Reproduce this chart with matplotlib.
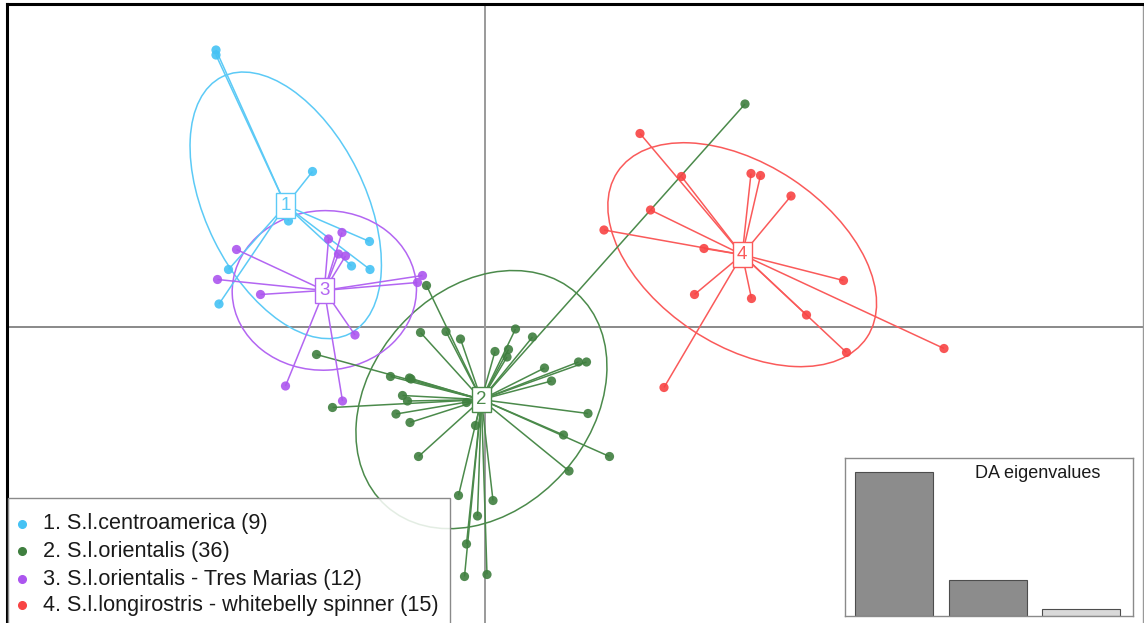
import numpy as np
import matplotlib
matplotlib.use("Agg")
import matplotlib.pyplot as plt
from matplotlib.patches import Ellipse, Rectangle

plt.rcParams['font.family'] = ['Liberation Sans', 'DejaVu Sans']

# Discriminant-analysis coordinates (LD1, LD2) per individual, grouped by cluster
group_names = ["1. S.l.centroamerica (9)",
               "2. S.l.orientalis (36)",
               "3. S.l.orientalis - Tres Marias (12)",
               "4. S.l.longirostris - whitebelly spinner (15)"]
group_ids = ["1", "2", "3", "4"]

g1_x = [-5.38, -5.38, -3.45, -3.93, -2.31, -2.67, -2.30, -5.13, -5.32]
g1_y = [5.54, 5.44, 3.11, 2.12, 1.71, 1.22, 1.15, 1.15, 0.46]

g2_x = [-1.17, -1.29, -0.78, -0.49, 0.61, 0.95, 0.20, 0.47, 0.44, 1.19, 1.87, 2.03,
        1.33, -3.37, -1.89, -1.51, -1.48, -1.65, -1.55, -0.37, -3.05, -1.78, -1.50,
        -0.19, 2.06, 1.57, 2.49, 1.68, -1.33, -0.53, 0.16, -0.15, -0.37, -0.41, 0.04, 5.20]
g2_y = [0.83, -0.11, -0.09, -0.24, -0.04, -0.20, -0.49, -0.45, -0.60, -0.82, -0.70, -0.70,
        -1.08, -0.55, -0.99, -1.02, -1.04, -1.37, -1.48, -1.51, -1.61, -1.74, -1.91,
        -1.97, -1.73, -2.16, -2.59, -2.88, -2.59, -3.37, -3.47, -3.78, -4.34, -4.99, -4.95, 4.46]

g3_x = [-2.86, -3.13, -2.93, -2.79, -4.97, -5.35, -4.49, -1.25, -1.35, -2.60, -3.99, -2.85]
g3_y = [1.89, 1.76, 1.46, 1.42, 1.55, 0.95, 0.65, 1.03, 0.89, -0.16, -1.18, -1.48]

g4_x = [3.10, 3.93, 3.31, 2.38, 4.38, 5.32, 5.51, 6.12, 7.17, 4.19, 5.33, 6.43, 7.23, 9.18, 3.58]
g4_y = [3.87, 3.01, 2.34, 1.94, 1.57, 3.07, 3.03, 2.62, 0.93, 0.65, 0.57, 0.24, -0.51, -0.43, -1.21]

# Eigenvalues of the discriminant functions (the third one is not retained)
eigenvalues = [144.0, 36.0, 7.0]
n_retained = 2

group_x = [g1_x, g2_x, g3_x, g4_x]
group_y = [g1_y, g2_y, g3_y, g4_y]
point_colors = ["#45c2f4", "#3f7f3f", "#ac55ef", "#f84444"]
line_colors = ["#5ccaf6", "#4b8a4b", "#b366f2", "#fa5a5a"]

W, H = 1144, 623
fig = plt.figure(figsize=(W / 100, H / 100), dpi=100)


def fx(px):
    return px / W


def fy(py):
    return 1 - py / H


# main scatter axes: origin of the discriminant space at the crossing lines
scale = 50.0
ox, oy = 485, 327
left_px, right_px, top_px, bottom_px = 7, 1143, 4, 623
ax = fig.add_axes([fx(left_px), fy(bottom_px), (right_px - left_px) / W, (bottom_px - top_px) / H])
ax.set_xlim((left_px - ox) / scale, (right_px - ox) / scale)
ax.set_ylim((oy - bottom_px) / scale, (oy - top_px) / scale)
ax.set_xticks([])
ax.set_yticks([])
ax.spines['top'].set_linewidth(2.2)
ax.spines['top'].set_color('black')
ax.spines['left'].set_linewidth(2.2)
ax.spines['left'].set_color('black')
ax.spines['right'].set_linewidth(1.0)
ax.spines['right'].set_color('#999999')
ax.spines['bottom'].set_visible(False)

ax.axhline(0, color='#6a6a6a', lw=1.1, zorder=1)
ax.axvline(0, color='#9a9a9a', lw=1.4, zorder=1)

cellipse = 1.5
for gx, gy, pc, lc, gid in zip(group_x, group_y, point_colors, line_colors, group_ids):
    pts = np.column_stack([gx, gy])
    cx, cy = pts.mean(axis=0)
    cov = np.cov(pts.T, bias=True)
    vals, vecs = np.linalg.eigh(cov)
    order = vals.argsort()[::-1]
    vals, vecs = vals[order], vecs[:, order]
    angle = np.degrees(np.arctan2(vecs[1, 0], vecs[0, 0]))
    ell = Ellipse((cx, cy), 2 * cellipse * np.sqrt(vals[0]), 2 * cellipse * np.sqrt(vals[1]),
                  angle=angle, fill=False, edgecolor=lc, lw=1.1, zorder=2)
    ax.add_patch(ell)
    for x, y in zip(gx, gy):
        ax.plot([cx, x], [cy, y], color=lc, lw=1.1, zorder=3, solid_capstyle='butt')
    ax.scatter(gx, gy, s=44, color=pc, alpha=0.9, edgecolors='none', zorder=4)
    ax.text(cx, cy, gid, color=lc, fontsize=13.5, ha='center', va='center', zorder=6,
            bbox=dict(boxstyle='square,pad=0.22', facecolor='white', edgecolor=lc, lw=1.0))

# legend panel in the lower left corner
leg_left, leg_top, leg_right = 8, 498, 450
fig.patches.append(Rectangle((fx(leg_left), 0), fx(leg_right) - fx(leg_left), fy(leg_top),
                             transform=fig.transFigure, facecolor='white', alpha=0.85,
                             edgecolor='none', zorder=10))
fig.patches.append(Rectangle((fx(leg_left), -0.01), fx(leg_right) - fx(leg_left), fy(leg_top) + 0.01,
                             transform=fig.transFigure, facecolor='none',
                             edgecolor='#8a8a8a', lw=1.0, zorder=11))
row_y = [524, 551, 579, 605]
for name, pc, ry in zip(group_names, point_colors, row_y):
    fig.text(fx(43), fy(ry), name, fontsize=15.6, color='#1a1a1a', ha='left', va='center', zorder=12)
    fig.add_artist(plt.Line2D([fx(22)], [fy(ry)], marker='o', markersize=5.5, color=pc,
                              transform=fig.transFigure, zorder=12))

# inset with discriminant eigenvalues
in_left, in_right, in_top, in_bottom = 845, 1133, 458, 616
iax = fig.add_axes([fx(in_left), fy(in_bottom), (in_right - in_left) / W, (in_bottom - in_top) / H])
iax.set_facecolor('white')
bar_unit = 78.0
x0_px = 839.4
iax.set_xlim((in_left - x0_px) / bar_unit, (in_right - x0_px) / bar_unit)
px_per_eig = 144.0 / eigenvalues[0]
iax.set_ylim(0, (in_bottom - in_top) / px_per_eig)
bar_left = [0.2 + 1.2 * i for i in range(len(eigenvalues))]
bar_colors = ['#8c8c8c' if i < n_retained else '#d9d9d9' for i in range(len(eigenvalues))]
iax.bar(bar_left, eigenvalues, width=1.0, align='edge', color=bar_colors,
        edgecolor='#4d4d4d', lw=0.8)
iax.set_xticks([])
iax.set_yticks([])
for sp in iax.spines.values():
    sp.set_color('#8a8a8a')
    sp.set_linewidth(1.0)
iax.text(0.668, 0.9, "DA eigenvalues", transform=iax.transAxes, fontsize=13.0,
         ha='center', va='center', color='#1a1a1a')

fig.savefig("out.png", dpi=100)
